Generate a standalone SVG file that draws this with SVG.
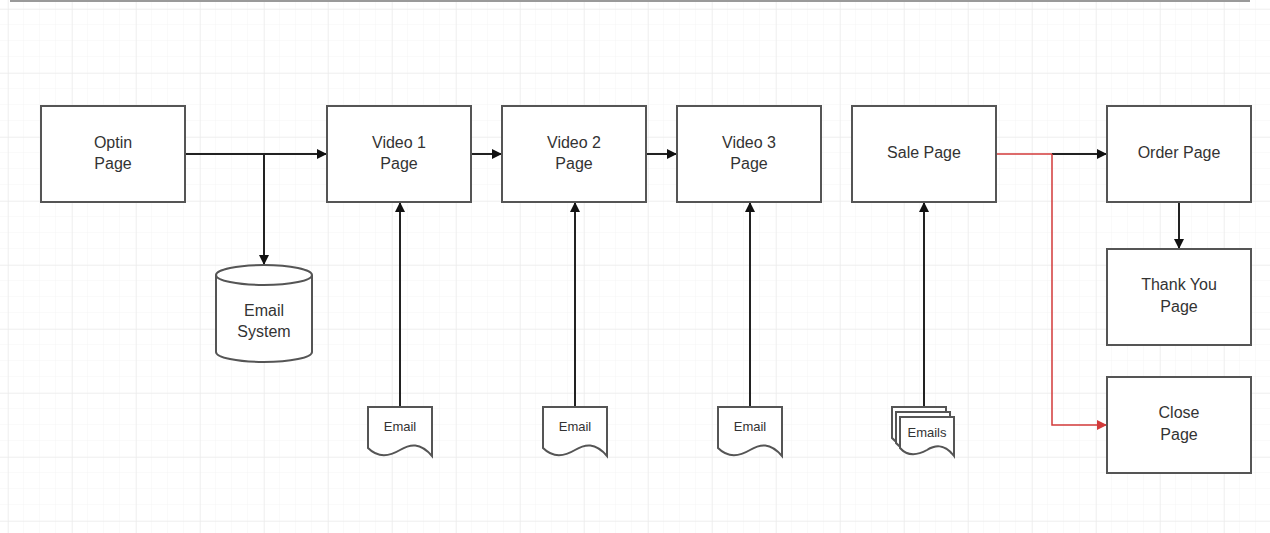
<svg xmlns="http://www.w3.org/2000/svg" width="1270" height="533" viewBox="0 0 1270 533">
<defs>
<pattern id="minor" x="8" y="9" width="16" height="16" patternUnits="userSpaceOnUse">
<path d="M16 0V16M0 16H16" fill="none" stroke="#f4f4f4" stroke-width="1"/>
</pattern>
<pattern id="major" x="8" y="9" width="64" height="64" patternUnits="userSpaceOnUse">
<path d="M0 0V64M0 0H64" fill="none" stroke="#e8e8e8" stroke-width="1"/>
</pattern>
<marker id="ab" viewBox="0 0 10 10" refX="10" refY="5" markerWidth="10" markerHeight="10" markerUnits="userSpaceOnUse" orient="auto">
<path d="M0 0L10 5L0 10Z" fill="#111"/>
</marker>
<marker id="ar" viewBox="0 0 10 10" refX="10" refY="5" markerWidth="10" markerHeight="10" markerUnits="userSpaceOnUse" orient="auto">
<path d="M0 0L10 5L0 10Z" fill="#d23a3a"/>
</marker>
</defs>
<style>
.box{fill:#fff;stroke:#555;stroke-width:2}
.t{font-family:"Liberation Sans",Arial,sans-serif;font-size:16px;fill:#333;text-anchor:middle}
.s{font-family:"Liberation Sans",Arial,sans-serif;font-size:13px;fill:#333;text-anchor:middle}
.c{fill:none;stroke:#222;stroke-width:2}
.r{fill:none;stroke:#d23a3a;stroke-width:1.5}
</style>
<rect width="1270" height="533" fill="#fff"/>
<rect width="1270" height="533" fill="url(#minor)"/>
<rect width="1270" height="533" fill="url(#major)"/>
<line x1="10" y1="1" x2="1250" y2="1" stroke="#9a9a9a" stroke-width="2"/>

<g id="connectors">
<path class="c" d="M185 154H327" marker-end="url(#ab)"/>
<path class="c" d="M264 154V265" marker-end="url(#ab)"/>
<path class="c" d="M471 154H502" marker-end="url(#ab)"/>
<path class="c" d="M646 154H677" marker-end="url(#ab)"/>
<path class="c" d="M400 406V202" marker-end="url(#ab)"/>
<path class="c" d="M575 406V202" marker-end="url(#ab)"/>
<path class="c" d="M750 406V202" marker-end="url(#ab)"/>
<path class="c" d="M924 407V202" marker-end="url(#ab)"/>
<path class="r" d="M996 154H1052"/>
<path class="c" d="M1052 154H1107" marker-end="url(#ab)"/>
<path class="r" d="M1052 154V425H1107" marker-end="url(#ar)"/>
<path class="c" d="M1179 202V249" marker-end="url(#ab)"/>
</g>

<g id="optin"><rect class="box" x="41" y="106" width="144" height="96"/><text class="t" x="113" y="148">Optin</text><text class="t" x="113" y="169">Page</text></g>
<g id="video1"><rect class="box" x="327" y="106" width="144" height="96"/><text class="t" x="399" y="148">Video 1</text><text class="t" x="399" y="169">Page</text></g>
<g id="video2"><rect class="box" x="502" y="106" width="144" height="96"/><text class="t" x="574" y="148">Video 2</text><text class="t" x="574" y="169">Page</text></g>
<g id="video3"><rect class="box" x="677" y="106" width="144" height="96"/><text class="t" x="749" y="148">Video 3</text><text class="t" x="749" y="169">Page</text></g>
<g id="sale"><rect class="box" x="852" y="106" width="144" height="96"/><text class="t" x="924" y="158">Sale Page</text></g>
<g id="order"><rect class="box" x="1107" y="106" width="144" height="96"/><text class="t" x="1179" y="158">Order Page</text></g>
<g id="thankyou"><rect class="box" x="1107" y="249" width="144" height="96"/><text class="t" x="1179" y="290">Thank You</text><text class="t" x="1179" y="312">Page</text></g>
<g id="close"><rect class="box" x="1107" y="377" width="144" height="96"/><text class="t" x="1179" y="418">Close</text><text class="t" x="1179" y="440">Page</text></g>

<g id="emailsystem">
<path class="box" d="M216 275V352A48 10 0 0 0 312 352V275"/>
<ellipse class="box" cx="264" cy="275" rx="48" ry="10"/>
<text class="t" x="264" y="316">Email</text><text class="t" x="264" y="337">System</text>
</g>

<g id="email1">
<path class="box" d="M368 407H432V456C420 442 410 444 400 450C390 456 378 458 368 448Z"/>
<text class="s" x="400" y="431">Email</text>
</g>
<g id="email2">
<path class="box" d="M543 407H607V456C595 442 585 444 575 450C565 456 553 458 543 448Z"/>
<text class="s" x="575" y="431">Email</text>
</g>
<g id="email3">
<path class="box" d="M718 407H782V456C770 442 760 444 750 450C740 456 728 458 718 448Z"/>
<text class="s" x="750" y="431">Email</text>
</g>
<g id="emails">
<path class="box" d="M892 407H946V446C936 433 927 435 919 440C910 445 900 447 892 438Z"/>
<path class="box" d="M896 412H950V451C940 438 931 440 923 445C914 450 904 452 896 443Z"/>
<path class="box" d="M900 417H954V456C944 443 935 445 927 450C918 455 908 457 900 448Z"/>
<text class="s" x="927" y="437">Emails</text>
</g>
</svg>
